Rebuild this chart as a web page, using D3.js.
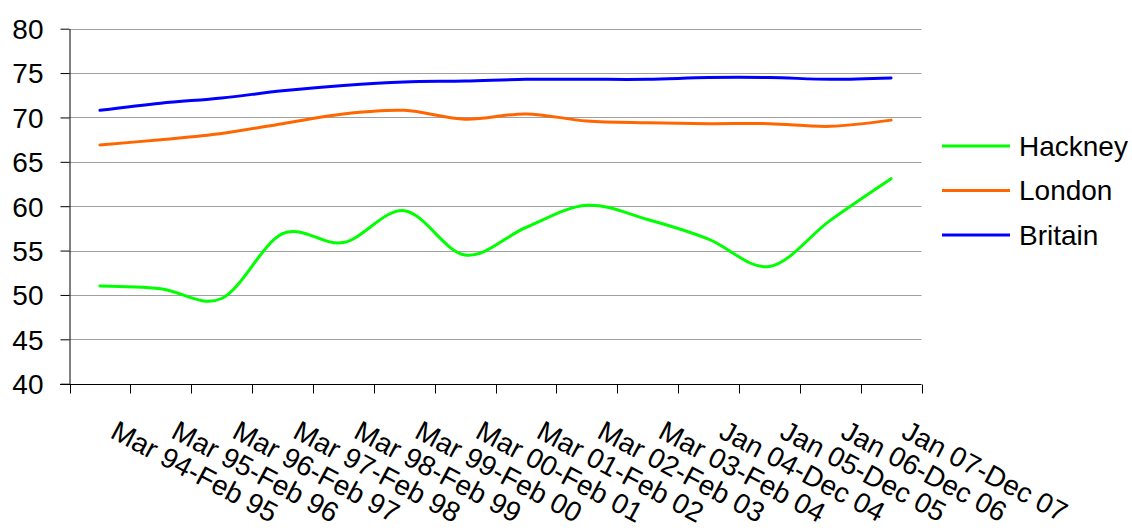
<!DOCTYPE html>
<html>
<head>
<meta charset="utf-8">
<script src="https://cdn.jsdelivr.net/npm/d3@7"></script>
<style>
  body { margin: 0; background: #fff; }
  svg text { font-family: Arial, "Liberation Sans", sans-serif; fill: #000; }
</style>
</head>
<body>
<svg id="chart" width="1132" height="531"></svg>
<script>
// categories (financial-year periods)
var periods = ["Mar 94-Feb 95", "Mar 95-Feb 96", "Mar 96-Feb 97", "Mar 97-Feb 98",
               "Mar 98-Feb 99", "Mar 99-Feb 00", "Mar 00-Feb 01", "Mar 01-Feb 02",
               "Mar 02-Feb 03", "Mar 03-Feb 04", "Jan 04-Dec 04", "Jan 05-Dec 05",
               "Jan 06-Dec 06", "Jan 07-Dec 07"];

var hackney = [51.0, 50.7, 49.6, 56.9, 55.9, 59.5, 54.5, 57.6, 60.1, 58.5, 56.3, 53.2, 58.4, 63.1];
var london  = [66.9, 67.5, 68.2, 69.3, 70.4, 70.8, 69.8, 70.4, 69.6, 69.4, 69.3, 69.3, 69.0, 69.7];
var britain = [70.8, 71.6, 72.2, 73.0, 73.6, 74.0, 74.1, 74.3, 74.3, 74.3, 74.5, 74.5, 74.3, 74.45];

var yTicks = [40, 45, 50, 55, 60, 65, 70, 75, 80];

var series = [
    {name: "Hackney", values: hackney, color: "#00ff00"},
    {name: "London",  values: london,  color: "#ff6600"},
    {name: "Britain", values: britain, color: "#0000ff"}
];

var svg = d3.select("#chart");

var x = d3.scaleBand().domain(periods).range([69.5, 921.5]);
var y = d3.scaleLinear().domain([40, 80]).range([383.7, 28.7]);

// gridlines
svg.append("g")
    .selectAll("line")
    .data(yTicks.slice(1))
    .enter().append("line")
    .attr("x1", 69.5).attr("x2", 921.5)
    .attr("y1", function(d) { return Math.round(y(d)) + 0.5; })
    .attr("y2", function(d) { return Math.round(y(d)) + 0.5; })
    .attr("stroke", "#a0a0a0")
    .attr("stroke-width", 1);

// y axis
var yAxis = svg.append("g")
    .attr("transform", "translate(69.5,0)")
    .call(d3.axisLeft(y).tickValues(yTicks).tickSize(9).tickPadding(17).tickSizeOuter(0));
yAxis.select(".domain").attr("stroke", "#000");
yAxis.selectAll(".tick line").attr("stroke", "#000");
yAxis.selectAll(".tick text")
    .style("font-size", "28px")
    .style("font-family", "Arial, 'Liberation Sans', sans-serif")
    .attr("dy", "0.35em");

// x axis: ticks at category boundaries
var xAxisY = Math.round(y(40)) + 0.5;
var bounds = periods.map(function(p) { return x(p); }).concat([x.range()[1]]);
var xg = svg.append("g");
xg.append("line")
    .attr("x1", 60).attr("x2", 921.5)
    .attr("y1", xAxisY).attr("y2", xAxisY)
    .attr("stroke", "#000");
xg.selectAll("line.tk")
    .data(bounds)
    .enter().append("line")
    .attr("class", "tk")
    .attr("x1", function(d) { return Math.round(d) + 0.5; })
    .attr("x2", function(d) { return Math.round(d) + 0.5; })
    .attr("y1", xAxisY).attr("y2", xAxisY + 9)
    .attr("stroke", "#000");

xg.selectAll("text")
    .data(periods)
    .enter().append("text")
    .attr("transform", function(d) {
        return "translate(" + (x(d) + x.bandwidth() / 2 + 9) + ",437) rotate(28)";
    })
    .attr("text-anchor", "start")
    .style("font-size", "28px")
    .text(function(d) { return d; });

// lines, smoothed like the spreadsheet original
var line = d3.line()
    .x(function(d, i) { return x(periods[i]) + x.bandwidth() / 2; })
    .y(function(d) { return y(d); })
    .curve(d3.curveCardinal.tension(0));

svg.append("g")
    .selectAll("path")
    .data(series.slice().reverse())
    .enter().append("path")
    .attr("d", function(s) { return line(s.values); })
    .attr("fill", "none")
    .attr("stroke", function(s) { return s.color; })
    .attr("stroke-width", 3)
    .attr("stroke-linejoin", "round")
    .attr("stroke-linecap", "round");

// legend
var legend = svg.append("g")
    .selectAll("g")
    .data(series)
    .enter().append("g")
    .attr("transform", function(s, i) { return "translate(942," + (146 + i * 44.5) + ")"; });
legend.append("line")
    .attr("x1", 0).attr("x2", 68)
    .attr("stroke", function(s) { return s.color; })
    .attr("stroke-width", 3);
legend.append("text")
    .attr("x", 77)
    .attr("dy", "0.35em")
    .style("font-size", "28px")
    .text(function(s) { return s.name; });
</script>
</body>
</html>
